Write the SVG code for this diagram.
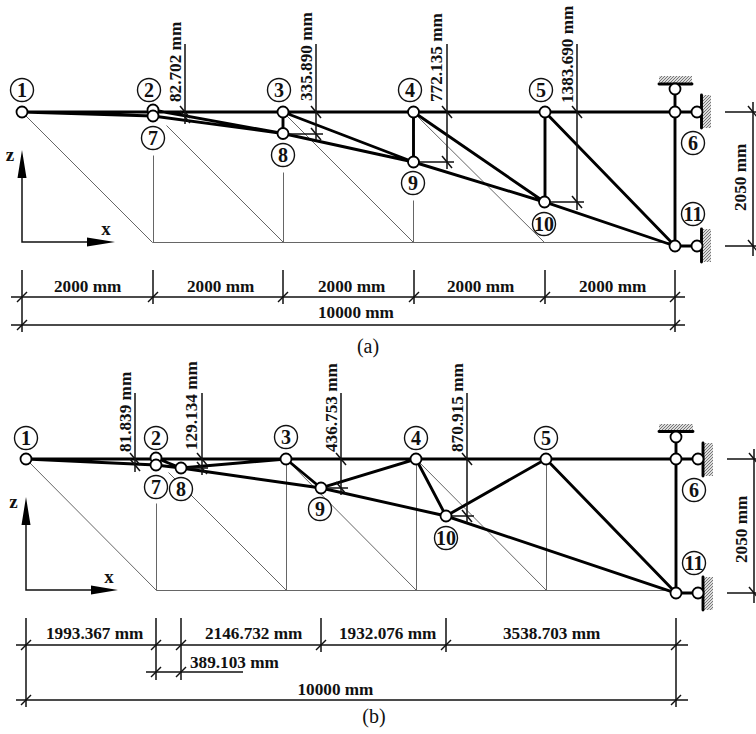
<svg xmlns="http://www.w3.org/2000/svg" width="756" height="734" viewBox="0 0 756 734">
<style>
.t{font:bold 17.2px "Liberation Serif","Times New Roman",serif;fill:#111}
.lb{font:bold 20px "Liberation Serif","Times New Roman",serif;fill:#111;text-anchor:middle}
.ax{font:bold 19px "Liberation Serif","Times New Roman",serif;fill:#111;text-anchor:middle}
.cap{font:20px "Liberation Serif","Times New Roman",serif;fill:#111;text-anchor:middle}
.thin{stroke:#666;stroke-width:1;fill:none}
.m{stroke:#000;stroke-width:2.9;fill:none;stroke-linecap:round}
.d{stroke:#111;stroke-width:1.5;fill:none}
.n{fill:#fff;stroke:#000;stroke-width:1.8}
.lc{fill:#fff;stroke:#111;stroke-width:1.4}
.h{fill:url(#hatch)}
</style>
<defs>
<pattern id="hatch" width="3" height="3" patternUnits="userSpaceOnUse"><rect width="3" height="3" fill="#ddd"/><path d="M0 3L3 0" stroke="#777" stroke-width="1"/></pattern>
<path id="tk" d="M-5 5L5 -5" class="d"/>
<path id="tv" d="M-5 -6L5 6" class="d"/>
</defs>
<g id="base-a" class="thin" transform="translate(0.5 0.5)">
<path d="M152 242H675M22 112L152 242M166 125L283 242M283 112L413 242M413 112L544 242M153 155V242M283 172V242M413 200V242"/>
</g>
<g id="base-b" class="thin" transform="translate(0.5 0.5)">
<path d="M156 590H676M26 459L156 590M168 472L286 590M286 459L416 590M416 459L546 590M156 503V590M286 459V590M416 459V590M546 459V590"/>
</g>
<g id="connectors">
<g id="members-a" class="m">
<path d="M22 112H675M22 112L153 116L283 133.500M153 110L283 133.500M283 133.500L413.500 162L544.500 202L675 246M283 112L413.500 162M413.500 112L544.500 202M545 112L675 246M283 112V133.500M413.500 112V162M545 112V202M675 89V246M675 112H697M675 246H697"/>
</g>
<g id="members-b" class="m">
<path d="M26 459H676M26 459L156 465L181 468L286 459M156 458L181 468L321 488L446 516L676 593M286 459L321 488L416 459L446 516L546 459L676 593M676 437V593M676 459H698M676 593H698"/>
</g>
<g id="dims-a" class="d">
<path d="M185 44V124M316 44V140M283 134H323M447 44V169M413 162H454M577 44V210M545 202H584"/>
<path d="M11 297H685M11 325H685M22 270V332M153 270V304M283 270V304M414 270V304M545 270V304M675 270V332"/>
<path d="M725 112H756M725 246H756M753 102V256"/>
<use href="#tv" x="185" y="112"/><use href="#tv" x="316" y="112"/><use href="#tv" x="447" y="112"/><use href="#tv" x="577" y="112"/>
<use href="#tv" x="185" y="117"/><use href="#tv" x="316" y="134"/><use href="#tv" x="447" y="162"/><use href="#tv" x="577" y="202"/>
<use href="#tk" x="22" y="297"/><use href="#tk" x="153" y="297"/><use href="#tk" x="283" y="297"/><use href="#tk" x="414" y="297"/><use href="#tk" x="545" y="297"/><use href="#tk" x="675" y="297"/>
<use href="#tk" x="22" y="325"/><use href="#tk" x="675" y="325"/>
<use href="#tv" x="753" y="112"/><use href="#tv" x="753" y="246"/>
</g>
<g id="dims-b" class="d">
<path d="M135 393V472M202 393V475M181 468H208M341 393V495M321 488H348M467 393V523M446 516H474"/>
<path d="M16 645H688M146 672H243M16 700H688M26 618V707M156 618V680M181 618V680M321 618V652M446 618V652M676 618V707"/>
<path d="M727 459H756M727 593H756M754 449V603"/>
<use href="#tv" x="135" y="459"/><use href="#tv" x="135" y="465"/><use href="#tv" x="202" y="459"/><use href="#tv" x="202" y="468"/><use href="#tv" x="341" y="459"/><use href="#tv" x="341" y="488"/><use href="#tv" x="467" y="459"/><use href="#tv" x="467" y="516"/>
<use href="#tk" x="26" y="645"/><use href="#tk" x="156" y="645"/><use href="#tk" x="181" y="645"/><use href="#tk" x="321" y="645"/><use href="#tk" x="446" y="645"/><use href="#tk" x="676" y="645"/>
<use href="#tk" x="156" y="672"/><use href="#tk" x="181" y="672"/><use href="#tk" x="26" y="700"/><use href="#tk" x="676" y="700"/>
<use href="#tv" x="754" y="459"/><use href="#tv" x="754" y="593"/>
</g>
<g id="axes">
<path class="d" d="M22 178V242H87M26 525V590H91"/>
<path d="M22 150L26.500 178H17.500ZM115 242L87 237.500V246.500ZM26 497L30.500 525H21.500ZM118 590L91 585.500V594.500Z" fill="#000"/>
</g>
</g>
<g id="supports">
<rect class="h" x="659" y="76" width="33" height="8"/><rect class="h" x="702" y="95" width="9" height="33"/><rect class="h" x="702" y="229" width="9" height="33"/>
<rect class="h" x="659" y="424" width="34" height="8"/><rect class="h" x="703" y="443" width="10" height="33"/><rect class="h" x="703" y="577" width="10" height="33"/>
<path class="m" d="M659 84H692M701.500 95V128M701.500 229V262M659 431.500H693M703 443V476M703 577V610" stroke-linecap="butt"/>
<circle class="n" cx="675" cy="89" r="5.500"/><circle class="n" cx="697" cy="112" r="5.500"/><circle class="n" cx="697" cy="246" r="5.500"/>
<circle class="n" cx="676" cy="437" r="5.500"/><circle class="n" cx="698" cy="459" r="5.500"/><circle class="n" cx="698" cy="593" r="5.500"/>
</g>
<g id="node-a1"><circle class="n" cx="22" cy="112" r="5.500"/><circle class="lc" cx="22" cy="90" r="11.500"/><text class="lb" x="22" y="97">1</text></g>
<g id="node-a2"><circle class="n" cx="153" cy="110" r="5.500"/><circle class="lc" cx="149" cy="90" r="11.500"/><text class="lb" x="149" y="97">2</text></g>
<g id="node-a7"><circle class="n" cx="153" cy="116" r="5.500"/><circle class="lc" cx="153" cy="138" r="11.500"/><text class="lb" x="153" y="145">7</text></g>
<g id="node-a3"><circle class="n" cx="283" cy="112" r="5.500"/><circle class="lc" cx="279" cy="90" r="11.500"/><text class="lb" x="279" y="97">3</text></g>
<g id="node-a8"><circle class="n" cx="283" cy="133.500" r="5.500"/><circle class="lc" cx="283" cy="155" r="11.500"/><text class="lb" x="283" y="162">8</text></g>
<g id="node-a4"><circle class="n" cx="413.500" cy="112" r="5.500"/><circle class="lc" cx="410" cy="90" r="11.500"/><text class="lb" x="410" y="97">4</text></g>
<g id="node-a9"><circle class="n" cx="413.500" cy="162" r="5.500"/><circle class="lc" cx="413" cy="183" r="11.500"/><text class="lb" x="413" y="190">9</text></g>
<g id="node-a5"><circle class="n" cx="545" cy="112" r="5.500"/><circle class="lc" cx="541" cy="90" r="11.500"/><text class="lb" x="541" y="97">5</text></g>
<g id="node-a10"><circle class="n" cx="544.500" cy="202" r="5.500"/><circle class="lc" cx="544" cy="224" r="11.500"/><text class="lb" x="544" y="231">10</text></g>
<g id="node-a6"><circle class="n" cx="675" cy="112" r="5.500"/><circle class="lc" cx="693" cy="143" r="11.500"/><text class="lb" x="693" y="150">6</text></g>
<g id="node-a11"><circle class="n" cx="675" cy="246" r="5.500"/><circle class="lc" cx="693" cy="214" r="11.500"/><text class="lb" x="693" y="221">11</text></g>
<g id="node-b1"><circle class="n" cx="26" cy="459" r="5.500"/><circle class="lc" cx="26" cy="438" r="11.500"/><text class="lb" x="26" y="445">1</text></g>
<g id="node-b2"><circle class="n" cx="156" cy="458" r="5.500"/><circle class="lc" cx="156" cy="438" r="11.500"/><text class="lb" x="156" y="445">2</text></g>
<g id="node-b7"><circle class="n" cx="156" cy="465" r="5.500"/><circle class="lc" cx="156" cy="487" r="11.500"/><text class="lb" x="156" y="494">7</text></g>
<g id="node-b8"><circle class="n" cx="181" cy="468" r="5.500"/><circle class="lc" cx="181" cy="489" r="11.500"/><text class="lb" x="181" y="496">8</text></g>
<g id="node-b3"><circle class="n" cx="286" cy="459" r="5.500"/><circle class="lc" cx="286" cy="437" r="11.500"/><text class="lb" x="286" y="444">3</text></g>
<g id="node-b9"><circle class="n" cx="321" cy="488" r="5.500"/><circle class="lc" cx="320" cy="509" r="11.500"/><text class="lb" x="320" y="516">9</text></g>
<g id="node-b4"><circle class="n" cx="416" cy="459" r="5.500"/><circle class="lc" cx="416" cy="438" r="11.500"/><text class="lb" x="416" y="445">4</text></g>
<g id="node-b10"><circle class="n" cx="446" cy="516" r="5.500"/><circle class="lc" cx="446" cy="538" r="11.500"/><text class="lb" x="446" y="545">10</text></g>
<g id="node-b5"><circle class="n" cx="546" cy="459" r="5.500"/><circle class="lc" cx="546" cy="438" r="11.500"/><text class="lb" x="546" y="445">5</text></g>
<g id="node-b6"><circle class="n" cx="676" cy="459" r="5.500"/><circle class="lc" cx="694" cy="490" r="11.500"/><text class="lb" x="694" y="497">6</text></g>
<g id="node-b11"><circle class="n" cx="676" cy="593" r="5.500"/><circle class="lc" cx="694" cy="563" r="11.500"/><text class="lb" x="694" y="570">11</text></g>
<g id="labels">
<text class="t" transform="translate(181 102) rotate(-90)">82.702 mm</text>
<text class="t" transform="translate(312 101) rotate(-90)">335.890 mm</text>
<text class="t" transform="translate(442 102) rotate(-90)">772.135 mm</text>
<text class="t" transform="translate(573 103) rotate(-90)">1383.690 mm</text>
<text class="t" transform="translate(746 211) rotate(-90)">2050 mm</text>
<text class="t" x="54" y="292">2000 mm</text><text class="t" x="187" y="292">2000 mm</text><text class="t" x="318" y="292">2000 mm</text><text class="t" x="447" y="292">2000 mm</text><text class="t" x="579" y="292">2000 mm</text>
<text class="t" x="318" y="318">10000 mm</text>
<text class="cap" x="368" y="353">(a)</text>
<text class="ax" x="10" y="161">z</text><text class="ax" x="106" y="235">x</text>
<text class="t" transform="translate(130.500 452) rotate(-90)">81.839 mm</text>
<text class="t" transform="translate(197 450) rotate(-90)">129.134 mm</text>
<text class="t" transform="translate(337 452) rotate(-90)">436.753 mm</text>
<text class="t" transform="translate(463 452) rotate(-90)">870.915 mm</text>
<text class="t" transform="translate(747 563) rotate(-90)">2050 mm</text>
<text class="t" x="46" y="639">1993.367 mm</text><text class="t" x="205" y="639">2146.732 mm</text><text class="t" x="339" y="639">1932.076 mm</text><text class="t" x="503" y="639">3538.703 mm</text>
<text class="t" x="190" y="668">389.103 mm</text>
<text class="t" x="297.500" y="695">10000 mm</text>
<text class="cap" x="374" y="723">(b)</text>
<text class="ax" x="13.500" y="508">z</text><text class="ax" x="109" y="583">x</text>
</g>
</svg>
